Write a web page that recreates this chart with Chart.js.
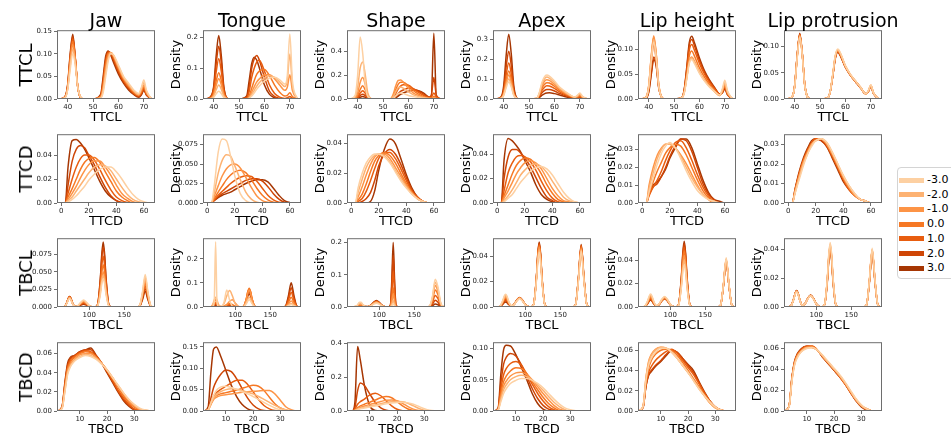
<!DOCTYPE html>
<html>
<head>
<meta charset="utf-8">
<script src="https://cdn.jsdelivr.net/npm/chart.js@4.4.0/dist/chart.umd.min.js"></script>
<style>
  body { margin: 0; width: 951px; height: 436px; overflow: hidden; background: #fff; position: relative;
         font-family: 'DejaVu Sans', sans-serif; color: #000; }
  canvas { position: absolute; }
  .colTitle { position: absolute; font-size: 19px; line-height: 1; white-space: nowrap; transform: translateX(-50%); }
  .rowTitle { position: absolute; font-size: 18px; line-height: 1; white-space: nowrap; transform: translate(-50%, -50%) rotate(-90deg); }
  #legend { position: absolute; left: 897px; top: 167px; width: 80px; height: 110px; border: 1px solid #d4d4d4; border-radius: 4px; background: #fff; }
  .item { position: absolute; left: 0; height: 14px; font-size: 11px; line-height: 14px; }
  .swatch { position: absolute; left: 1px; top: 4.5px; width: 25px; height: 5px; }
  .label { position: absolute; left: 29px; top: 0; white-space: nowrap; }
</style>
</head>
<body>
<script>
const levels = ['-3.0', '-2.0', '-1.0', '0.0', '1.0', '2.0', '3.0'];
const levelColors = ['#fdd0a2', '#fdb272', '#fd9446', '#f67824', '#e85d0f', '#cf4606', '#a63603'];
const columns = ['Jaw', 'Tongue', 'Shape', 'Apex', 'Lip height', 'Lip protrusion'];
const measures = ['TTCL', 'TTCD', 'TBCL', 'TBCD'];

// sample positions of the density curves, one grid per measure
const ttclX = [37, 39, 40, 41, 42, 43, 44, 46, 50, 53, 54, 55, 56, 57, 58, 60, 62, 64, 66, 68, 69, 70, 71, 73];
const ttcdX = [0, 3, 5, 8, 11, 14, 17, 20, 24, 28, 32, 36, 40, 44, 48, 52, 56, 60, 64];
const tbclX = [60, 64, 68, 70, 72, 74, 76, 80, 84, 88, 92, 96, 100, 104, 108, 112, 116, 118, 120, 122, 124, 128, 132, 150, 168, 172, 176, 180, 184, 188, 192];
const tbcdX = [2, 3.5, 4.5, 5.5, 6.5, 8, 10, 12, 14, 16, 18, 20, 22, 24, 26, 28, 30, 32, 34, 36];

const ttclXTicks = [40, 50, 60, 70];
const ttcdXTicks = [0, 20, 40, 60];
const tbclXTicks = [100, 150];
const tbcdXTicks = [10, 20, 30];

const ttclYTicks = [['0.00', '0.05', '0.10', '0.15'], ['0.0', '0.1', '0.2'], ['0.0', '0.2', '0.4'], ['0.0', '0.1', '0.2', '0.3'], ['0.00', '0.05', '0.10'], ['0.00', '0.05', '0.10']];
const ttcdYTicks = [['0.00', '0.02', '0.04'], ['0.000', '0.025', '0.050', '0.075'], ['0.00', '0.02', '0.04'], ['0.00', '0.02', '0.04'], ['0.00', '0.01', '0.02', '0.03'], ['0.00', '0.01', '0.02', '0.03']];
const tbclYTicks = [['0.000', '0.025', '0.050', '0.075'], ['0.0', '0.1', '0.2'], ['0.0', '0.1', '0.2'], ['0.00', '0.02', '0.04'], ['0.00', '0.02', '0.04'], ['0.00', '0.02', '0.04']];
const tbcdYTicks = [['0.00', '0.02', '0.04', '0.06'], ['0.00', '0.05', '0.10', '0.15'], ['0.0', '0.2', '0.4'], ['0.00', '0.05', '0.10'], ['0.00', '0.02', '0.04', '0.06'], ['0.00', '0.02', '0.04', '0.06']];

const ttclYMax = [0.152, 0.222, 0.576, 0.345, 0.139, 0.131];
const ttcdYMax = [0.0574, 0.0883, 0.0463, 0.0565, 0.0387, 0.0353];
const tbclYMax = [0.0975, 0.285, 0.2135, 0.054, 0.0587, 0.048];
const tbcdYMax = [0.072, 0.161, 0.406, 0.11, 0.068, 0.066];

// density values, one row per level (-3 .. 3)
const jawTTCL = [
  [0,.003,.02,.065,.1,.075,.025,0,0,.002,.015,.05,.085,.1,.098,.075,.05,.035,.02,.012,.025,.042,.02,0],
  [0,.003,.022,.073,.11,.08,.026,0,0,.003,.02,.06,.09,.102,.097,.072,.048,.032,.018,.01,.022,.036,.017,0],
  [0,.004,.024,.08,.12,.085,.026,0,0,.004,.025,.068,.095,.103,.096,.07,.046,.03,.017,.009,.019,.031,.015,0],
  [0,.004,.026,.085,.127,.088,.026,0,0,.005,.03,.075,.1,.103,.094,.067,.044,.028,.015,.008,.016,.027,.013,0],
  [0,.005,.028,.09,.133,.09,.026,0,0,.006,.036,.082,.103,.102,.091,.064,.041,.026,.013,.007,.013,.024,.012,0],
  [0,.005,.03,.095,.138,.09,.026,0,0,.008,.043,.088,.105,.1,.087,.06,.038,.023,.012,.005,.011,.021,.01,0],
  [0,.006,.032,.1,.143,.09,.025,0,0,.01,.05,.095,.106,.096,.082,.055,.035,.02,.01,.004,.009,.019,.009,0]
];
const tongueTTCL = [
  [0,.001,.005,.017,.025,.018,.005,0,0,0,.002,.01,.02,.032,.042,.058,.068,.07,.062,.048,.075,.21,.06,0],
  [0,.002,.009,.03,.045,.032,.009,0,0,0,.004,.015,.028,.042,.053,.068,.075,.07,.055,.04,.06,.145,.045,0],
  [0,.003,.013,.044,.065,.046,.013,0,0,.001,.006,.022,.04,.055,.065,.078,.078,.065,.045,.028,.038,.078,.028,0],
  [0,.004,.017,.058,.085,.06,.017,0,0,.001,.01,.035,.06,.08,.09,.095,.075,.045,.022,.01,.012,.02,.008,0],
  [0,.006,.026,.088,.13,.09,.026,0,0,.003,.025,.07,.1,.12,.125,.09,.045,.018,.006,.002,.004,.008,.003,0],
  [0,.008,.034,.115,.17,.118,.034,0,0,.005,.04,.1,.13,.14,.125,.07,.025,.008,.002,0,.001,.002,.001,0],
  [0,.01,.04,.14,.205,.14,.04,0,0,.01,.06,.115,.135,.125,.1,.045,.015,.004,0,0,0,0,0,0]
];
const shapeTTCL = [
  [0,.03,.2,.52,.38,.12,.02,0,0,0,.005,.025,.045,.05,.045,.03,.02,.012,.006,.002,.001,0,0,0],
  [0,.02,.1,.26,.31,.2,.05,0,0,.002,.02,.06,.095,.1,.09,.06,.035,.02,.01,.004,.003,.005,.002,0],
  [0,.01,.05,.14,.18,.12,.03,0,0,.003,.04,.11,.155,.16,.14,.09,.05,.03,.015,.005,.004,.01,.003,0],
  [0,.005,.03,.08,.11,.075,.02,0,0,.002,.025,.08,.125,.14,.14,.11,.07,.04,.02,.008,.006,.02,.006,0],
  [0,.003,.017,.05,.07,.048,.013,0,0,.001,.012,.045,.085,.11,.12,.115,.085,.055,.03,.012,.015,.05,.015,0],
  [0,.002,.01,.03,.04,.028,.008,0,0,0,.005,.02,.045,.065,.075,.09,.085,.065,.04,.015,.03,.18,.03,0],
  [0,.001,.005,.015,.02,.014,.004,0,0,0,.002,.01,.025,.04,.05,.065,.075,.07,.05,.015,.01,.55,.01,0]
];
const apexTTCL = [
  [0,.003,.017,.058,.085,.06,.017,0,0,.003,.03,.08,.11,.12,.115,.09,.06,.04,.022,.01,.018,.03,.014,0],
  [0,.003,.02,.068,.1,.07,.02,0,0,.003,.027,.072,.1,.11,.105,.082,.055,.036,.02,.009,.015,.026,.012,0],
  [0,.004,.024,.08,.12,.084,.024,0,0,.003,.024,.063,.088,.097,.093,.073,.05,.032,.018,.008,.013,.022,.01,0],
  [0,.005,.028,.095,.14,.098,.028,0,0,.002,.02,.053,.073,.082,.08,.064,.043,.028,.016,.007,.01,.017,.008,0],
  [0,.006,.036,.122,.18,.126,.036,0,0,.002,.015,.042,.058,.066,.065,.053,.036,.023,.013,.005,.007,.012,.006,0],
  [0,.008,.048,.163,.24,.168,.048,0,0,.001,.01,.03,.042,.048,.048,.04,.028,.018,.01,.004,.005,.008,.004,0],
  [0,.011,.065,.22,.325,.225,.065,0,0,.001,.006,.018,.026,.03,.031,.027,.02,.013,.007,.003,.003,.005,.002,0]
];
const lipHeightTTCL = [
  [0,.003,.023,.076,.115,.08,.025,0,0,.002,.012,.04,.072,.08,.072,.052,.036,.024,.015,.008,.02,.038,.017,0],
  [0,.004,.024,.079,.12,.084,.026,0,0,.002,.012,.042,.075,.083,.075,.054,.037,.025,.015,.007,.018,.033,.015,0],
  [0,.004,.026,.085,.128,.09,.028,0,0,.002,.013,.043,.077,.085,.077,.055,.038,.026,.015,.007,.016,.03,.013,0],
  [0,.004,.025,.083,.125,.088,.027,0,0,.002,.015,.049,.087,.097,.087,.063,.044,.029,.017,.008,.015,.027,.012,0],
  [0,.003,.022,.073,.11,.077,.024,0,0,.002,.017,.055,.099,.11,.099,.072,.05,.033,.02,.009,.014,.025,.011,0],
  [0,.002,.015,.052,.085,.068,.022,0,0,.002,.018,.06,.108,.12,.108,.078,.054,.036,.022,.01,.013,.022,.01,0],
  [0,.002,.013,.048,.08,.066,.022,0,0,.003,.019,.064,.114,.127,.114,.083,.057,.038,.023,.01,.012,.02,.009,0]
];
const lipProtTTCL = [
  [0,.004,.023,.078,.118,.083,.025,0,0,.002,.015,.047,.083,.095,.088,.063,.047,.034,.022,.01,.016,.027,.012,0],
  [0,.004,.024,.079,.12,.084,.025,0,0,.002,.014,.046,.082,.094,.087,.063,.046,.034,.022,.01,.015,.026,.012,0],
  [0,.004,.024,.08,.121,.085,.026,0,0,.002,.014,.045,.081,.093,.086,.062,.046,.034,.022,.01,.015,.026,.012,0],
  [0,.004,.024,.081,.122,.085,.026,0,0,.002,.014,.045,.08,.092,.085,.062,.046,.034,.022,.01,.015,.025,.012,0],
  [0,.004,.025,.082,.123,.086,.026,0,0,.002,.014,.044,.079,.091,.084,.061,.045,.033,.021,.01,.014,.025,.011,0],
  [0,.004,.025,.083,.124,.086,.026,0,0,.002,.014,.044,.078,.09,.083,.061,.045,.033,.021,.01,.014,.024,.011,0],
  [0,.004,.025,.083,.125,.087,.026,0,0,.002,.014,.043,.077,.089,.082,.06,.045,.033,.021,.01,.014,.024,.011,0]
];

const jawTTCD = [
  [0,0,.001,.003,.006,.01,.014,.019,.024,.028,.03,.03,.026,.02,.013,.007,.003,.001,0],
  [0,0,.002,.005,.01,.015,.02,.025,.03,.032,.031,.027,.02,.013,.007,.003,.001,0,0],
  [0,0,.003,.008,.014,.021,.027,.032,.035,.035,.03,.023,.015,.008,.004,.001,0,0,0],
  [0,0,.005,.012,.02,.028,.034,.037,.038,.034,.026,.018,.01,.005,.002,0,0,0,0],
  [0,0,.008,.02,.03,.037,.04,.04,.036,.028,.019,.011,.005,.002,.0005,0,0,0,0],
  [0,0,.015,.035,.045,.048,.046,.04,.032,.022,.013,.006,.002,.0005,0,0,0,0,0],
  [0,0,.03,.052,.053,.05,.045,.038,.028,.018,.01,.005,.002,0,0,0,0,0,0]
];
const tongueTTCD = [
  [0,0,.02,.065,.082,.08,.06,.035,.012,.003,0,0,0,0,0,0,0,0,0],
  [0,0,.012,.038,.055,.062,.06,.048,.03,.014,.005,.001,0,0,0,0,0,0,0],
  [0,0,.008,.022,.035,.044,.049,.05,.045,.033,.02,.009,.003,.001,0,0,0,0,0],
  [0,0,.005,.014,.022,.03,.036,.04,.042,.039,.03,.019,.01,.004,.001,0,0,0,0],
  [0,0,.004,.01,.015,.02,.025,.029,.033,.035,.034,.028,.019,.01,.004,.001,0,0,0],
  [0,0,.003,.008,.012,.015,.018,.021,.025,.029,.031,.031,.028,.021,.012,.005,.001,0,0],
  [0,0,.003,.007,.01,.012,.014,.017,.021,.025,.028,.03,.03,.027,.019,.01,.003,.0005,0]
];
const shapeTTCD = [
  [0,0,.01,.02,.027,.031,.033,.033,.031,.027,.021,.015,.01,.006,.003,.001,0,0,0],
  [0,0,.007,.016,.024,.029,.032,.033,.032,.028,.022,.016,.011,.006,.003,.001,0,0,0],
  [0,0,.004,.011,.019,.026,.031,.033,.033,.03,.024,.018,.012,.007,.003,.001,0,0,0],
  [0,0,.002,.006,.013,.021,.028,.032,.034,.032,.027,.02,.013,.007,.003,.001,0,0,0],
  [0,0,.001,.003,.008,.015,.023,.03,.034,.034,.03,.023,.015,.008,.004,.001,0,0,0],
  [0,0,0,.001,.003,.007,.015,.025,.033,.036,.033,.026,.017,.009,.004,.001,0,0,0],
  [0,0,0,0,0,.001,.008,.022,.036,.043,.04,.03,.019,.01,.004,.001,0,0,0]
];
const apexTTCD = [
  [0,0,.001,.004,.007,.012,.017,.021,.026,.029,.03,.028,.023,.016,.009,.004,.001,0,0],
  [0,0,.002,.006,.011,.017,.023,.027,.031,.032,.03,.025,.018,.011,.005,.002,.001,0,0],
  [0,0,.004,.01,.017,.024,.029,.033,.035,.033,.028,.02,.012,.006,.002,.001,0,0,0],
  [0,0,.006,.015,.024,.031,.035,.037,.036,.031,.024,.015,.008,.003,.001,0,0,0,0],
  [0,0,.01,.025,.033,.038,.039,.038,.034,.027,.018,.01,.004,.001,0,0,0,0,0],
  [0,0,.02,.038,.044,.044,.041,.037,.03,.021,.012,.005,.002,0,0,0,0,0,0],
  [0,0,.035,.053,.051,.047,.042,.035,.026,.015,.007,.003,.001,0,0,0,0,0,0]
];
const lipHeightTTCD = [
  [0,0,.006,.014,.022,.028,.032,.034,.031,.025,.018,.012,.007,.004,.002,.001,0,0,0],
  [0,0,.008,.017,.025,.03,.033,.033,.031,.026,.02,.014,.009,.005,.002,.001,0,0,0],
  [0,0,.01,.02,.027,.031,.033,.033,.031,.027,.022,.016,.01,.005,.002,0,0,0,0],
  [0,0,.005,.012,.018,.023,.028,.031,.033,.032,.027,.02,.013,.007,.003,.001,0,0,0],
  [0,0,.004,.009,.013,.018,.024,.029,.034,.035,.031,.024,.016,.009,.004,.001,0,0,0],
  [0,0,.005,.009,.011,.015,.02,.026,.032,.036,.035,.029,.02,.011,.005,.002,0,0,0],
  [0,0,.006,.01,.012,.015,.019,.025,.031,.036,.036,.031,.022,.013,.006,.002,.001,0,0]
];
const lipProtTTCD = [
  [0,0,.005,.012,.019,.025,.029,.032,.033,.031,.026,.02,.014,.009,.005,.002,.001,0,0],
  [0,0,.005,.013,.02,.025,.03,.032,.033,.031,.026,.02,.014,.009,.005,.002,.001,0,0],
  [0,0,.006,.014,.021,.026,.03,.032,.033,.03,.025,.019,.013,.008,.004,.002,.001,0,0],
  [0,0,.006,.014,.021,.026,.03,.032,.033,.03,.025,.019,.013,.008,.004,.002,.001,0,0],
  [0,0,.006,.015,.022,.027,.031,.033,.033,.03,.024,.018,.012,.007,.004,.002,.001,0,0],
  [0,0,.007,.015,.022,.027,.031,.033,.032,.029,.024,.018,.012,.007,.004,.002,.001,0,0],
  [0,0,.007,.016,.023,.028,.032,.033,.032,.029,.023,.017,.011,.007,.004,.002,.001,0,0]
];

const jawTBCL = [
  [0,0,.005,.0096,.012,.0096,.005,.0007,.0021,.0067,.01,.0067,.0021,.0003,0,.0016,.018,.033,.04,.033,.018,.0016,0,0,0,.0018,.021,.046,.021,.0018,0],
  [0,0,.0053,.0104,.013,.0104,.0053,.0007,.0019,.006,.009,.006,.0019,.0003,0,.0018,.021,.037,.045,.037,.021,.0018,0,0,0,.0017,.019,.042,.019,.0017,0],
  [0,0,.0053,.0104,.013,.0104,.0053,.0006,.0017,.0054,.008,.0054,.0017,.0002,0,.002,.023,.041,.05,.041,.023,.002,0,0,0,.0015,.017,.038,.017,.0015,0],
  [0,0,.0057,.0112,.014,.0112,.0057,.0006,.0015,.0047,.007,.0047,.0015,.0002,0,.0024,.028,.049,.06,.049,.028,.0024,0,0,0,.0014,.016,.034,.016,.0014,0],
  [0,0,.0057,.0112,.014,.0112,.0057,.0006,.0013,.004,.006,.004,.0013,.0002,0,.0029,.033,.059,.072,.059,.033,.0029,0,0,0,.0012,.014,.03,.014,.0012,0],
  [0,0,.0062,.012,.015,.012,.0062,.0006,.001,.0034,.005,.0034,.001,.0002,0,.0034,.039,.07,.085,.07,.039,.0034,0,0,0,.001,.012,.026,.012,.001,0],
  [0,0,.0062,.012,.015,.012,.0062,.0006,.0008,.0027,.004,.0027,.0008,.0001,0,.0037,.042,.075,.092,.075,.042,.0037,0,0,0,.0009,.01,.022,.01,.0009,0]
];
const tongueTBCL = [
  [0,0,0,.02,.27,.02,.001,.001,.02,.07,.029,.003,0,0,0,.0012,.014,.025,.03,.025,.014,.0012,0,0,0,.0004,.005,.01,.005,.0004,0],
  [0,0,.011,.029,.04,.029,.011,.002,.014,.046,.068,.046,.014,.002,0,.0016,.018,.033,.04,.033,.018,.0016,0,0,0,.0006,.007,.015,.007,.0006,0],
  [0,0,.008,.022,.03,.022,.008,.001,.002,.01,.024,.03,.017,.004,0,.0028,.032,.057,.07,.057,.032,.0028,0,0,0,.001,.012,.025,.012,.001,0],
  [0,0,.006,.015,.02,.015,.006,.001,.003,.01,.015,.01,.003,.0005,0,.0031,.036,.064,.078,.064,.036,.0031,0,0,0,.0016,.018,.04,.018,.0016,0],
  [0,0,.004,.011,.015,.011,.004,.001,.002,.007,.01,.007,.002,.0003,0,.003,.035,.062,.075,.062,.035,.003,0,0,0,.0024,.028,.06,.028,.0024,0],
  [0,0,.003,.007,.01,.007,.003,.0005,.001,.0034,.005,.0034,.001,.0002,0,.0026,.03,.053,.065,.053,.03,.0026,0,0,0,.0032,.037,.08,.037,.0032,0],
  [0,0,.0015,.0037,.005,.0037,.0015,.0002,.0006,.002,.003,.002,.0006,.0001,0,.0022,.025,.045,.055,.045,.025,.0022,0,0,0,.004,.046,.1,.046,.004,0]
];
const shapeTBCL = [
  [0,.001,.004,.0096,.015,.015,.0096,.0018,.0007,.0034,.0088,.012,.0088,.0034,.0007,0,.0003,.0041,.01,.0041,.0003,0,0,0,0,.0032,.032,.086,.062,.012,.0006],
  [0,.001,.0035,.0084,.013,.013,.0084,.0018,.0008,.0039,.01,.014,.01,.0039,.0008,0,.0006,.0082,.02,.0082,.0006,0,0,0,0,.0028,.029,.077,.055,.0104,.0006],
  [0,.0005,.0025,.006,.0095,.0095,.006,.0014,.0009,.0042,.011,.015,.011,.0042,.0009,0,.0012,.016,.04,.016,.0012,0,0,0,0,.0025,.025,.067,.048,.0091,.0005],
  [0,.0003,.0015,.0036,.0057,.0057,.0036,.0011,.001,.0045,.0117,.016,.0117,.0045,.001,0,.0018,.025,.06,.025,.0018,0,0,0,0,.0019,.02,.053,.038,.0072,.0004],
  [0,.0002,.001,.0024,.0038,.0038,.0024,.0012,.001,.0048,.0124,.017,.0124,.0048,.001,0,.0033,.045,.11,.045,.0033,0,0,0,0,.0013,.014,.036,.026,.0049,.0003],
  [0,.0001,.0005,.0012,.0019,.0019,.0012,.0012,.0011,.005,.0131,.018,.0131,.005,.0011,0,.0048,.066,.16,.066,.0048,0,0,0,0,.0008,.0079,.021,.015,.0029,.0002],
  [0,0,.0003,.0006,.001,.001,.0006,.0013,.0012,.0056,.0146,.02,.0146,.0056,.0012,0,.006,.082,.2,.082,.006,0,0,0,0,.0004,.0036,.0096,.0069,.0013,.0001]
];
const apexTBCL = [
  [0,.0007,.0052,.0085,.01,.0085,.0052,.0011,.0018,.0047,.0065,.0047,.0018,.0004,0,.0017,.02,.035,.043,.035,.02,.0017,0,0,0,.0018,.02,.044,.02,.0018,0],
  [0,.0006,.0047,.0077,.009,.0077,.0047,.001,.0019,.005,.0068,.005,.0019,.0004,0,.0018,.021,.037,.045,.037,.021,.0018,0,0,0,.0018,.021,.045,.021,.0018,0],
  [0,.0006,.0042,.0068,.008,.0068,.0042,.001,.002,.0051,.007,.0051,.002,.0004,0,.0019,.022,.039,.047,.039,.022,.0019,0,0,0,.0018,.021,.046,.021,.0018,0],
  [0,.0005,.0036,.006,.007,.006,.0036,.0009,.002,.0051,.007,.0051,.002,.0004,0,.0019,.022,.039,.048,.039,.022,.0019,0,0,0,.0019,.022,.047,.022,.0019,0],
  [0,.0004,.0031,.0051,.006,.0051,.0031,.0008,.002,.0051,.007,.0051,.002,.0004,0,.002,.023,.04,.049,.04,.023,.002,0,0,0,.0019,.022,.048,.022,.0019,0],
  [0,.0004,.0026,.0043,.005,.0043,.0026,.0008,.002,.0053,.0072,.0053,.002,.0004,0,.002,.023,.041,.05,.041,.023,.002,0,0,0,.0019,.022,.048,.022,.0019,0],
  [0,.0003,.0021,.0034,.004,.0034,.0021,.0007,.0021,.0055,.0075,.0055,.0021,.0005,0,.002,.023,.042,.051,.042,.023,.002,0,0,0,.002,.023,.049,.023,.002,0]
];
const lipHeightTBCL = [
  [0,.0008,.0057,.0094,.011,.0094,.0057,.0013,.0025,.0066,.009,.0066,.0025,.0005,0,.0014,.017,.03,.036,.03,.017,.0014,0,0,0,.0017,.019,.042,.019,.0017,0],
  [0,.0007,.0052,.0085,.01,.0085,.0052,.0012,.0024,.0062,.0085,.0062,.0024,.0005,0,.0016,.018,.033,.04,.033,.018,.0016,0,0,0,.0016,.019,.041,.019,.0016,0],
  [0,.0006,.0047,.0077,.009,.0077,.0047,.0011,.0022,.0058,.008,.0058,.0022,.0005,0,.0018,.02,.036,.044,.036,.02,.0018,0,0,0,.0016,.019,.041,.019,.0016,0],
  [0,.0006,.0042,.0068,.008,.0068,.0042,.001,.0022,.0057,.0078,.0057,.0022,.0005,0,.0019,.022,.039,.048,.039,.022,.0019,0,0,0,.0016,.018,.04,.018,.0016,0],
  [0,.0005,.0036,.006,.007,.006,.0036,.0009,.0021,.0055,.0075,.0055,.0021,.0005,0,.002,.023,.042,.051,.042,.023,.002,0,0,0,.0016,.018,.04,.018,.0016,0],
  [0,.0005,.0034,.0055,.0065,.0055,.0034,.0009,.002,.0053,.0072,.0053,.002,.0004,0,.0022,.025,.044,.054,.044,.025,.0022,0,0,0,.0016,.018,.039,.018,.0016,0],
  [0,.0004,.0031,.0051,.006,.0051,.0031,.0008,.002,.0051,.007,.0051,.002,.0004,0,.0022,.026,.046,.056,.046,.026,.0022,0,0,0,.0016,.018,.039,.018,.0016,0]
];
const lipProtTBCL = [
  [0,.0007,.0055,.0089,.0105,.0089,.0055,.0012,.0022,.0057,.0078,.0057,.0022,.0005,0,.0018,.021,.037,.045,.037,.021,.0018,0,0,0,.0016,.019,.041,.019,.0016,0],
  [0,.0008,.0057,.0094,.011,.0094,.0057,.0013,.0022,.0058,.008,.0058,.0022,.0005,0,.0018,.02,.036,.044,.036,.02,.0018,0,0,0,.0016,.018,.04,.018,.0016,0],
  [0,.0008,.0057,.0094,.011,.0094,.0057,.0013,.0022,.0058,.008,.0058,.0022,.0005,0,.0017,.02,.035,.043,.035,.02,.0017,0,0,0,.0016,.018,.04,.018,.0016,0],
  [0,.0008,.0057,.0094,.011,.0094,.0057,.0013,.0022,.0058,.008,.0058,.0022,.0005,0,.0017,.02,.035,.043,.035,.02,.0017,0,0,0,.0016,.018,.04,.018,.0016,0],
  [0,.0008,.0058,.0095,.0112,.0095,.0058,.0013,.0023,.006,.0082,.006,.0023,.0005,0,.0017,.019,.034,.042,.034,.019,.0017,0,0,0,.0016,.018,.039,.018,.0016,0],
  [0,.0008,.006,.0098,.0115,.0098,.006,.0013,.0023,.006,.0082,.006,.0023,.0005,0,.0016,.019,.034,.041,.034,.019,.0016,0,0,0,.0016,.018,.039,.018,.0016,0],
  [0,.0008,.006,.0098,.0115,.0098,.006,.0013,.0023,.0061,.0083,.0061,.0023,.0005,0,.0016,.018,.033,.04,.033,.018,.0016,0,0,0,.0015,.017,.038,.017,.0015,0]
];

const jawTBCD = [
  [0,.003,.02,.038,.046,.052,.056,.058,.057,.054,.049,.043,.035,.027,.019,.012,.007,.003,.001,0],
  [0,.003,.021,.04,.047,.053,.057,.059,.058,.055,.05,.043,.035,.027,.019,.012,.006,.002,.001,0],
  [0,.004,.023,.042,.049,.054,.059,.06,.06,.056,.05,.043,.035,.026,.018,.011,.005,.002,0,0],
  [0,.004,.025,.044,.051,.056,.06,.062,.061,.056,.05,.042,.034,.025,.016,.009,.004,.001,0,0],
  [0,.004,.027,.046,.053,.057,.061,.063,.062,.057,.05,.042,.032,.022,.014,.007,.002,.001,0,0],
  [0,.005,.028,.048,.055,.058,.062,.064,.064,.058,.05,.041,.031,.021,.012,.006,.002,0,0,0],
  [0,.005,.03,.05,.056,.058,.062,.064,.066,.058,.05,.04,.03,.02,.011,.005,.001,0,0,0]
];
const tongueTBCD = [
  [0,.003,.02,.036,.048,.056,.058,.055,.05,.045,.04,.034,.027,.02,.013,.007,.003,.001,0,0],
  [0,.003,.016,.03,.038,.045,.05,.052,.051,.048,.044,.04,.034,.027,.02,.013,.007,.003,.001,0],
  [0,.003,.015,.027,.032,.036,.038,.04,.042,.044,.045,.046,.047,.048,.048,.04,.025,.01,.003,0],
  [0,.003,.017,.03,.036,.04,.043,.046,.049,.053,.057,.06,.058,.048,.032,.017,.007,.002,0,0],
  [0,.003,.02,.035,.043,.05,.058,.066,.072,.072,.062,.045,.027,.013,.005,.001,0,0,0,0],
  [0,.005,.03,.055,.07,.085,.096,.092,.075,.052,.03,.014,.005,.001,0,0,0,0,0,0],
  [0,.01,.09,.145,.15,.13,.095,.06,.033,.015,.005,.001,0,0,0,0,0,0,0,0]
];
const shapeTBCD = [
  [0,0,.002,.008,.013,.018,.024,.03,.036,.042,.047,.05,.051,.048,.04,.027,.013,.004,.001,0],
  [0,0,.003,.01,.016,.022,.029,.036,.043,.05,.054,.056,.054,.045,.03,.015,.005,.001,0,0],
  [0,0,.004,.015,.022,.03,.038,.047,.056,.063,.065,.06,.045,.026,.011,.003,0,0,0,0],
  [0,0,.005,.02,.03,.04,.052,.065,.078,.085,.078,.055,.03,.012,.003,0,0,0,0,0],
  [0,0,.01,.04,.055,.07,.095,.105,.09,.06,.03,.01,.002,0,0,0,0,0,0,0],
  [0,0,.02,.12,.165,.15,.1,.05,.018,.004,0,0,0,0,0,0,0,0,0,0],
  [0,0,.05,.38,.3,.15,.03,.003,0,0,0,0,0,0,0,0,0,0,0,0]
];
const apexTBCD = [
  [0,.002,.015,.028,.036,.044,.049,.052,.052,.049,.044,.037,.028,.019,.011,.005,.002,.0005,0,0],
  [0,.002,.019,.034,.042,.05,.055,.057,.055,.05,.042,.033,.023,.014,.007,.002,0,0,0,0],
  [0,.002,.023,.04,.048,.056,.061,.062,.058,.05,.039,.028,.018,.009,.003,.001,0,0,0,0],
  [0,.003,.028,.047,.056,.064,.069,.068,.06,.047,.034,.022,.012,.005,.001,0,0,0,0,0],
  [0,.003,.035,.058,.068,.076,.079,.073,.059,.043,.028,.016,.007,.002,0,0,0,0,0,0],
  [0,.004,.045,.075,.086,.092,.088,.074,.055,.036,.02,.009,.003,.001,0,0,0,0,0,0],
  [0,.005,.06,.098,.105,.104,.09,.07,.05,.028,.012,.003,0,0,0,0,0,0,0,0]
];
const lipHeightTBCD = [
  [0,.005,.03,.045,.052,.058,.062,.062,.058,.052,.045,.038,.03,.022,.015,.009,.004,.001,0,0],
  [0,.005,.032,.048,.055,.06,.063,.062,.058,.052,.045,.038,.03,.022,.015,.008,.003,.001,0,0],
  [0,.005,.032,.049,.056,.061,.063,.062,.058,.052,.045,.038,.031,.023,.015,.008,.003,.001,0,0],
  [0,.005,.028,.042,.05,.056,.06,.061,.06,.055,.048,.04,.032,.024,.016,.009,.004,.001,0,0],
  [0,.004,.025,.038,.044,.05,.055,.059,.061,.057,.05,.043,.036,.027,.018,.01,.004,.001,0,0],
  [0,.004,.024,.036,.04,.045,.05,.056,.06,.058,.052,.045,.038,.028,.018,.01,.004,.001,0,0],
  [0,.004,.024,.035,.039,.044,.049,.055,.06,.058,.052,.046,.04,.029,.019,.01,.004,.001,0,0]
];
const lipProtTBCD = [
  [0,.004,.028,.044,.051,.057,.06,.061,.058,.053,.047,.041,.035,.028,.02,.012,.006,.002,0,0],
  [0,.005,.029,.045,.052,.057,.061,.061,.058,.052,.046,.04,.034,.027,.019,.011,.005,.002,0,0],
  [0,.005,.03,.046,.053,.058,.061,.061,.058,.052,.046,.04,.034,.027,.019,.011,.005,.002,0,0],
  [0,.005,.03,.046,.053,.058,.061,.062,.058,.052,.046,.04,.034,.027,.019,.011,.005,.002,0,0],
  [0,.005,.031,.047,.054,.059,.062,.062,.058,.052,.046,.04,.033,.026,.018,.011,.005,.002,0,0],
  [0,.005,.031,.047,.054,.059,.062,.062,.058,.051,.045,.039,.033,.026,.018,.01,.005,.001,0,0],
  [0,.005,.032,.048,.055,.06,.062,.061,.058,.051,.045,.039,.033,.026,.018,.01,.004,.001,0,0]
];

const rows = [
  { x: ttclX, range: [35.8, 74.4], xTicks: ttclXTicks, yTicks: ttclYTicks, yMax: ttclYMax,
    panels: [jawTTCL, tongueTTCL, shapeTTCL, apexTTCL, lipHeightTTCL, lipProtTTCL] },
  { x: ttcdX, range: [-3, 68], xTicks: ttcdXTicks, yTicks: ttcdYTicks, yMax: ttcdYMax,
    panels: [jawTTCD, tongueTTCD, shapeTTCD, apexTTCD, lipHeightTTCD, lipProtTTCD] },
  { x: tbclX, range: [54, 194], xTicks: tbclXTicks, yTicks: tbclYTicks, yMax: tbclYMax,
    panels: [jawTBCL, tongueTBCL, shapeTBCL, apexTBCL, lipHeightTBCL, lipProtTBCL] },
  { x: tbcdX, range: [1.6, 37.6], xTicks: tbcdXTicks, yTicks: tbcdYTicks, yMax: tbcdYMax,
    panels: [jawTBCD, tongueTBCD, shapeTBCD, apexTBCD, lipHeightTBCD, lipProtTBCD] }
];

// page geometry of the plot boxes
const boxLeft = [57, 203, 347, 493, 638, 784];
const boxTop = [30, 134, 238, 342];
const BOX_W = 98, BOX_H = 69;
const PAD_L = 52, PAD_T = 6, PAD_R = 6, AXIS_H = 32;
const EDGE = '#6e6e6e';

Chart.defaults.font.family = "'DejaVu Sans', sans-serif";

// closed frame round the plot area
const frame = {
  id: 'frame',
  afterDatasetsDraw(chart) {
    const { ctx, chartArea: a } = chart;
    ctx.save();
    ctx.strokeStyle = EDGE;
    ctx.lineWidth = 1;
    ctx.strokeRect(a.left + 0.5, a.top + 0.5, a.right - a.left - 1, a.bottom - a.top - 1);
    ctx.restore();
  }
};

function addText(cls, text, left, top) {
  const d = document.createElement('div');
  d.className = cls;
  d.textContent = text;
  d.style.left = left + 'px';
  d.style.top = top + 'px';
  document.body.appendChild(d);
}

rows.forEach((row, r) => {
  row.panels.forEach((curves, c) => {
    const cv = document.createElement('canvas');
    cv.width = PAD_L + BOX_W + PAD_R;
    cv.height = PAD_T + BOX_H + AXIS_H;
    cv.style.left = (boxLeft[c] - PAD_L) + 'px';
    cv.style.top = (boxTop[r] - PAD_T) + 'px';
    document.body.appendChild(cv);

    const yLabels = row.yTicks[c];
    new Chart(cv, {
      type: 'line',
      data: {
        datasets: curves.map((ys, i) => ({
          label: levels[i],
          data: row.x.map((x, j) => ({ x: x, y: ys[j] })),
          borderColor: levelColors[i],
          borderWidth: 1.5,
          pointRadius: 0,
          fill: false,
          cubicInterpolationMode: 'monotone'
        }))
      },
      options: {
        responsive: false,
        animation: false,
        events: [],
        layout: { padding: { left: 0, top: PAD_T, right: PAD_R, bottom: 0 } },
        plugins: { legend: { display: false }, tooltip: { enabled: false } },
        scales: {
          x: {
            type: 'linear', min: row.range[0], max: row.range[1],
            afterBuildTicks: s => { s.ticks = row.xTicks.map(v => ({ value: v })); },
            afterFit: s => { s.height = AXIS_H; },
            ticks: { font: { size: 7 }, color: '#222', padding: 1, autoSkip: false, maxRotation: 0,
                     callback: v => String(v) },
            grid: { display: true, drawOnChartArea: false, drawTicks: true, tickLength: 3, color: EDGE },
            border: { display: false },
            title: { display: true, text: measures[r], font: { size: 13 }, color: '#000', padding: { top: 0, bottom: 6 } }
          },
          y: {
            type: 'linear', min: 0, max: row.yMax[c],
            afterBuildTicks: s => { s.ticks = yLabels.map(v => ({ value: Number(v) })); },
            afterFit: s => { s.width = PAD_L; },
            ticks: { font: { size: 7 }, color: '#222', padding: 2, autoSkip: false,
                     callback: (v, i) => yLabels[i] },
            grid: { display: true, drawOnChartArea: false, drawTicks: true, tickLength: 3, color: EDGE },
            border: { display: false },
            title: { display: c > 0, text: 'Density', font: { size: 13 }, color: '#000', padding: { top: 18, bottom: 0 } }
          }
        }
      },
      plugins: [frame]
    });
  });
  addText('rowTitle', measures[r], 25.5, boxTop[r] + BOX_H / 2);
});

columns.forEach((name, c) => addText('colTitle', name, boxLeft[c] + BOX_W / 2, 11));

// level legend
const legend = document.createElement('div');
legend.id = 'legend';
levels.forEach((lv, i) => {
  const it = document.createElement('div');
  it.className = 'item';
  it.style.top = (5 + i * 14.7) + 'px';
  const sw = document.createElement('div');
  sw.className = 'swatch';
  sw.style.background = levelColors[i];
  const tx = document.createElement('div');
  tx.className = 'label';
  tx.textContent = lv;
  it.appendChild(sw);
  it.appendChild(tx);
  legend.appendChild(it);
});
document.body.appendChild(legend);
</script>
</body>
</html>
